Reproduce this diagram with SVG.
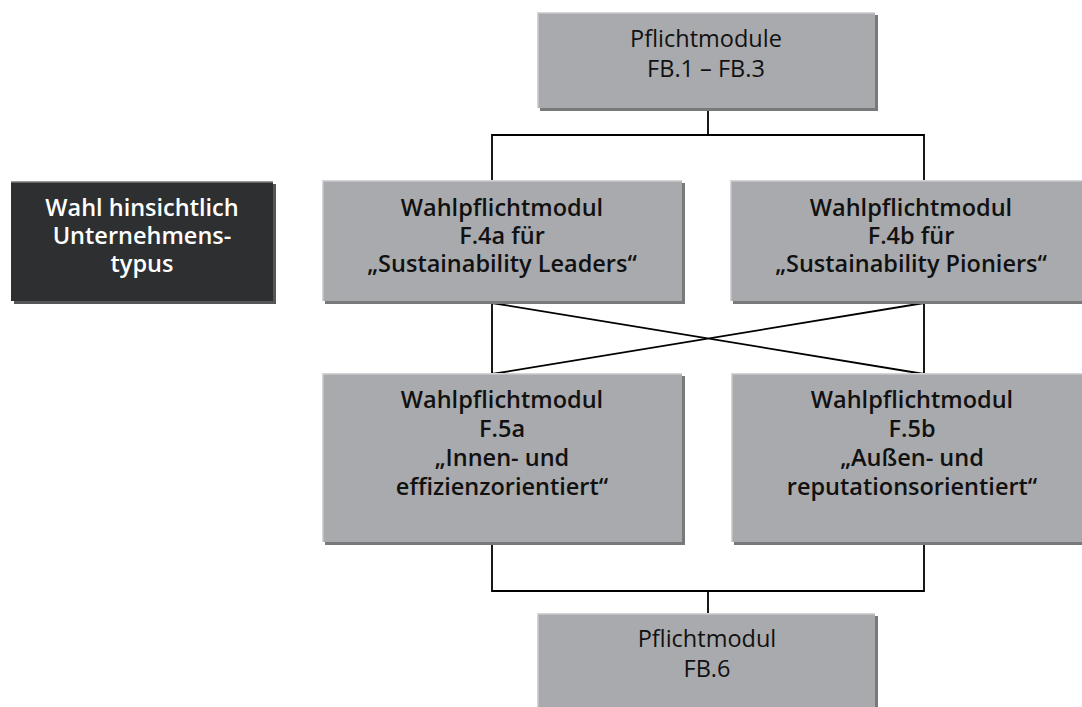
<svg xmlns="http://www.w3.org/2000/svg" width="1082" height="707" viewBox="0 0 1082 707">
<style>
.box{fill:#a9aaad}
.sh{fill:#78797b}
.hl{fill:#d4d5d6}
.dark{fill:#2e2f31}
.dsh{fill:#55565a}
.dhl{fill:#9a9b9d}
text{font-family:"Open Sans","Noto Sans","DejaVu Sans",sans-serif;font-size:23.5px;text-anchor:middle}
.r{fill:#111;font-weight:400}
.b{fill:#111;font-weight:600}
.w{fill:#fff;font-weight:600}
.ln{fill:none;stroke:#000;stroke-width:1.8}
</style>
<rect width="1082" height="707" fill="#fff"/>
<g id="connectors">
<path class="ln" d="M708 110 V135 M492 181 V135 H924 V181"/>
<path class="ln" d="M492 303 V374 M924 303 V374 M492 303 L924 374 M924 303 L492 374"/>
<path class="ln" d="M492 544 V591 H924 V544 M708 591 V614"/>
</g>
<g id="pflicht-top">
<rect class="sh" x="540" y="15" width="338" height="96"/>
<rect class="box" x="537" y="12" width="338" height="96"/>
<rect class="hl" x="537" y="12" width="338" height="1.5"/>
<rect class="hl" x="537" y="12" width="1.5" height="96"/>
<text class="r" x="706" y="47">Pflichtmodule</text>
<text class="r" x="706" y="77">FB.1 – FB.3</text>
</g>
<g id="wahl-typ">
<rect class="dsh" x="14" y="184" width="262" height="120"/>
<rect class="dark" x="11" y="181" width="262" height="120"/>
<rect class="dhl" x="11" y="181" width="262" height="1.5"/>
<text class="w" x="142" y="216">Wahl hinsichtlich</text>
<text class="w" x="142" y="244">Unternehmens-</text>
<text class="w" x="142" y="272">typus</text>
</g>
<g id="f4a">
<rect class="sh" x="325" y="183" width="360" height="121"/>
<rect class="box" x="322" y="180" width="360" height="121"/>
<rect class="hl" x="322" y="180" width="360" height="1.5"/>
<rect class="hl" x="322" y="180" width="1.5" height="121"/>
<text class="b" x="502" y="216">Wahlpflichtmodul</text>
<text class="b" x="502" y="244">F.4a für</text>
<text class="b" x="502" y="272">„Sustainability Leaders“</text>
</g>
<g id="f4b">
<rect class="sh" x="733" y="183" width="362" height="121"/>
<rect class="box" x="730" y="180" width="362" height="121"/>
<rect class="hl" x="730" y="180" width="362" height="1.5"/>
<rect class="hl" x="730" y="180" width="1.5" height="121"/>
<text class="b" x="911" y="216">Wahlpflichtmodul</text>
<text class="b" x="911" y="244">F.4b für</text>
<text class="b" x="911" y="272">„Sustainability Pioniers“</text>
</g>
<g id="f5a">
<rect class="sh" x="325" y="376" width="360" height="169"/>
<rect class="box" x="322" y="373" width="360" height="169"/>
<rect class="hl" x="322" y="373" width="360" height="1.5"/>
<rect class="hl" x="322" y="373" width="1.5" height="169"/>
<text class="b" x="502" y="408">Wahlpflichtmodul</text>
<text class="b" x="502" y="437">F.5a</text>
<text class="b" x="502" y="466">„Innen- und</text>
<text class="b" x="502" y="495">effizienzorientiert“</text>
</g>
<g id="f5b">
<rect class="sh" x="734" y="376" width="362" height="169"/>
<rect class="box" x="731" y="373" width="362" height="169"/>
<rect class="hl" x="731" y="373" width="362" height="1.5"/>
<rect class="hl" x="731" y="373" width="1.5" height="169"/>
<text class="b" x="912" y="408">Wahlpflichtmodul</text>
<text class="b" x="912" y="437">F.5b</text>
<text class="b" x="912" y="466">„Außen- und</text>
<text class="b" x="912" y="495">reputationsorientiert“</text>
</g>
<g id="pflicht-bottom">
<rect class="sh" x="540" y="616" width="338" height="100"/>
<rect class="box" x="537" y="613" width="338" height="100"/>
<rect class="hl" x="537" y="613" width="338" height="1.5"/>
<rect class="hl" x="537" y="613" width="1.5" height="100"/>
<text class="r" x="707" y="647">Pflichtmodul</text>
<text class="r" x="707" y="677">FB.6</text>
</g>
</svg>
